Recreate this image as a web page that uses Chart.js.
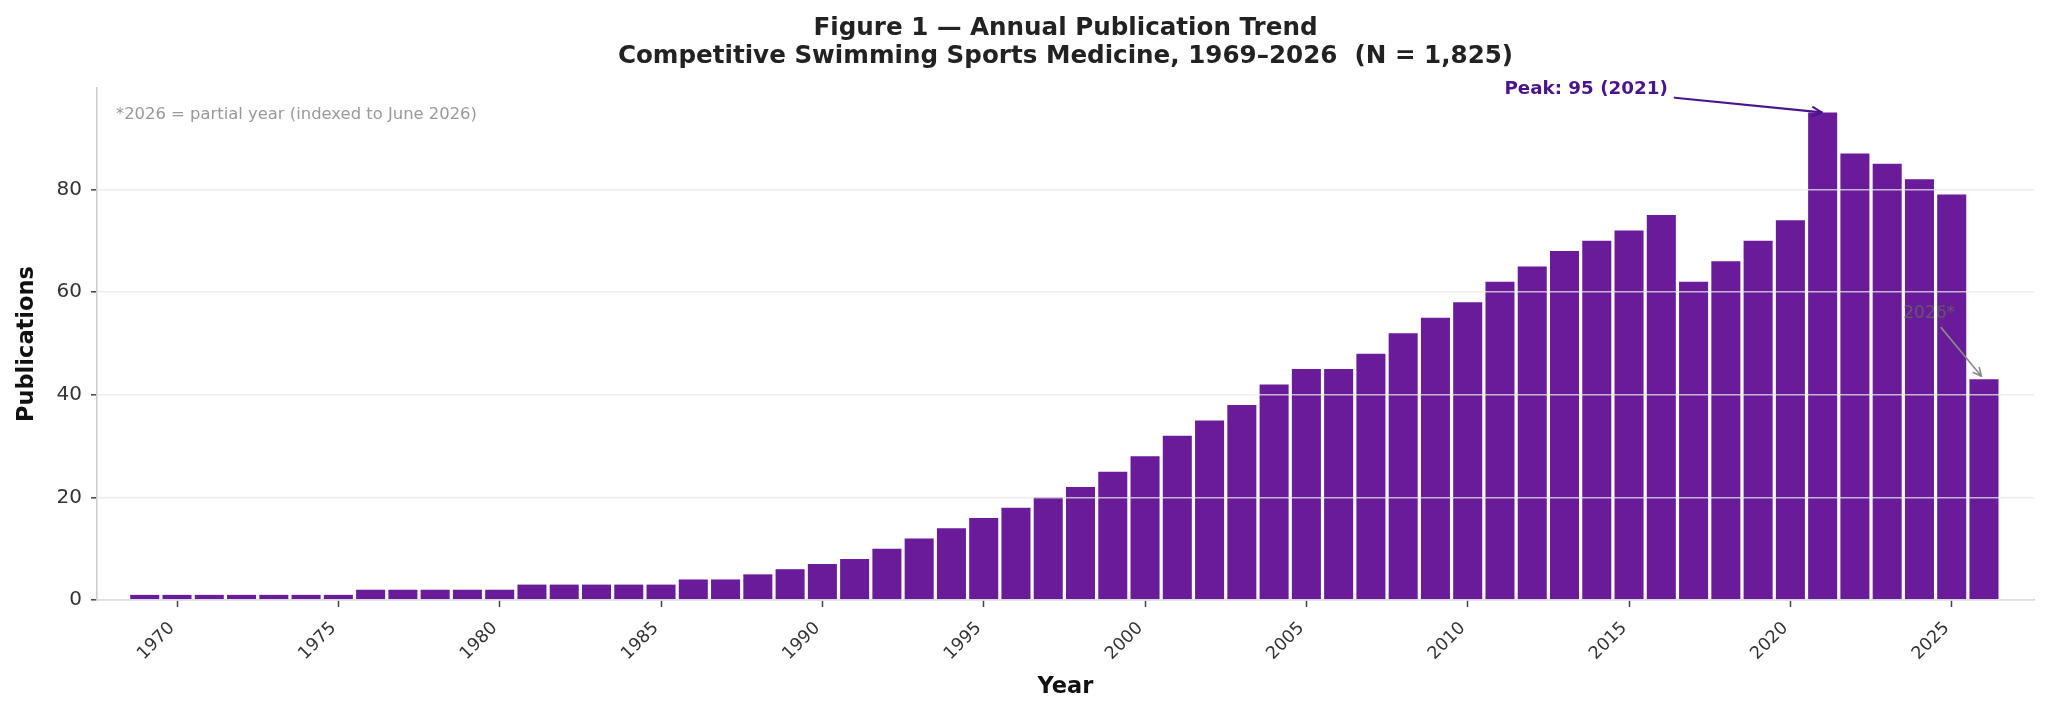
<!DOCTYPE html>
<html>
<head>
<meta charset="utf-8">
<script src="https://cdn.jsdelivr.net/npm/chart.js@4.4.1/dist/chart.umd.min.js"></script>
<style>
  html, body { margin: 0; padding: 0; background: #ffffff; }
  #wrap { width: 2048px; height: 714px; position: relative; }
</style>
</head>
<body>
<div id="wrap"><canvas id="c" width="2048" height="714"></canvas></div>
<script>
// ---- data ----
const years = [1969,1970,1971,1972,1973,1974,1975,1976,1977,1978,1979,1980,1981,1982,1983,1984,1985,1986,1987,1988,1989,1990,1991,1992,1993,1994,1995,1996,1997,1998,1999,2000,2001,2002,2003,2004,2005,2006,2007,2008,2009,2010,2011,2012,2013,2014,2015,2016,2017,2018,2019,2020,2021,2022,2023,2024,2025,2026];
const publications = [1,1,1,1,1,1,1,2,2,2,2,2,3,3,3,3,3,4,4,5,6,7,8,10,12,14,16,18,20,22,25,28,32,35,38,42,45,45,48,52,55,58,62,65,68,70,72,75,62,66,70,74,95,87,85,82,79,43];
const xTickYears = [1970,1975,1980,1985,1990,1995,2000,2005,2010,2015,2020,2025];
const yTickValues = [0,20,40,60,80];
const titleLines = ["Figure 1 \u2014 Annual Publication Trend", "Competitive Swimming Sports Medicine, 1969\u20132026  (N = 1,825)"];
const footnote = "*2026 = partial year (indexed to June 2026)";
const peakLabel = "Peak: 95 (2021)";
const peakYear = 2021, peakValue = 95;
const partialLabel = "2026*";
const partialYear = 2026, partialValue = 43;

const FONT = "'DejaVu Sans', 'Liberation Sans', sans-serif";
const BAR = '#6A1B9A';

function arrowAnnot(ctx, chart, o) {
  const xs = chart.scales.x, ys = chart.scales.y;
  const px = xs.getPixelForValue(o.tx), py = ys.getPixelForValue(o.ty);
  ctx.save();
  ctx.font = o.font;
  const w = ctx.measureText(o.text).width;
  const h = o.size;
  let cx = px;
  if (o.align === 'right') cx = px - w / 2;
  else if (o.align === 'left') cx = px + w / 2;
  ctx.fillStyle = o.color;
  ctx.textAlign = 'center';
  ctx.textBaseline = 'middle';
  ctx.fillText(o.text, cx, py);
  const Tx = xs.getPixelForValue(o.ax), Ty = ys.getPixelForValue(o.ay);
  const dx = Tx - cx, dy = Ty - py;
  const hw = w / 2 + o.pad, hh = h / 2 + o.pad;
  const t = Math.min(dx !== 0 ? hw / Math.abs(dx) : Infinity, dy !== 0 ? hh / Math.abs(dy) : Infinity);
  const Sx = cx + dx * t, Sy = py + dy * t;
  const len = Math.hypot(dx, dy);
  const ux = dx / len, uy = dy / len;
  const Ex = Tx - ux * o.shrink, Ey = Ty - uy * o.shrink;
  ctx.strokeStyle = o.arrowColor;
  ctx.lineWidth = o.lw;
  ctx.lineCap = 'round';
  ctx.lineJoin = 'round';
  ctx.beginPath();
  ctx.moveTo(Sx, Sy);
  ctx.lineTo(Ex, Ey);
  ctx.stroke();
  const ang = Math.atan2(uy, ux);
  const a = Math.PI / 7;
  ctx.beginPath();
  ctx.moveTo(Ex - o.head * Math.cos(ang - a), Ey - o.head * Math.sin(ang - a));
  ctx.lineTo(Ex, Ey);
  ctx.lineTo(Ex - o.head * Math.cos(ang + a), Ey - o.head * Math.sin(ang + a));
  ctx.stroke();
  ctx.restore();
}

const annotPlugin = {
  id: 'annot',
  afterDraw(chart) {
    const ctx = chart.ctx;
    const ca = chart.chartArea;
    ctx.save();
    ctx.font = '16.4px ' + FONT;
    ctx.fillStyle = '#999999';
    ctx.textAlign = 'left';
    ctx.textBaseline = 'middle';
    ctx.fillText(footnote, ca.left + 19, ca.top + 27);
    ctx.restore();
    arrowAnnot(ctx, chart, {
      text: peakLabel, tx: 2016.2, ty: 99.6, ax: peakYear, ay: peakValue,
      font: 'bold 18.3px ' + FONT, size: 18, color: '#4A148C', align: 'right',
      arrowColor: '#4A148C', lw: 2.2, pad: 7, shrink: 1, head: 10
    });
    arrowAnnot(ctx, chart, {
      text: partialLabel, tx: 2024.3, ty: 55.9, ax: partialYear, ay: partialValue,
      font: '17px ' + FONT, size: 17, color: 'rgba(100,100,100,0.8)', align: 'center',
      arrowColor: '#8a8a8a', lw: 1.6, pad: 6, shrink: 4, head: 9
    });
  }
};

const ctx = document.getElementById('c').getContext('2d');
new Chart(ctx, {
  type: 'bar',
  data: {
    datasets: [{
      data: years.map((y, i) => ({ x: y, y: publications[i] })),
      backgroundColor: BAR,
      borderWidth: 0,
      barPercentage: 0.9,
      categoryPercentage: 1.0
    }]
  },
  options: {
    responsive: false,
    devicePixelRatio: 1,
    animation: false,
    layout: { padding: { left: 0, right: 14, top: 0, bottom: 0 } },
    plugins: {
      legend: { display: false },
      tooltip: { enabled: false },
      title: {
        display: true,
        fullSize: false,
        text: titleLines,
        color: '#222222',
        font: { family: FONT, size: 24.6, weight: 'bold', lineHeight: 1.12 },
        padding: { top: 15, bottom: 18 }
      }
    },
    scales: {
      x: {
        type: 'linear',
        min: 1967.52,
        max: 2027.55,
        offset: false,
        afterBuildTicks: (s) => { s.ticks = xTickYears.map(v => ({ value: v })); },
        afterFit: (s) => { s.height = 114; },
        ticks: {
          autoSkip: false,
          minRotation: 45,
          maxRotation: 45,
          padding: 11,
          labelOffset: -5,
          color: '#333333',
          font: { family: FONT, size: 17.5 },
          callback: (v) => String(v)
        },
        grid: {
          offset: false,
          drawOnChartArea: false,
          drawTicks: true,
          tickLength: 7,
          tickColor: '#444444',
          tickWidth: 1.5
        },
        border: { display: true, color: '#cccccc', width: 1.5 },
        title: {
          display: true,
          text: 'Year',
          color: '#111111',
          font: { family: FONT, size: 22.5, weight: 'bold', lineHeight: 1.2 },
          padding: { top: 0, bottom: 13 }
        }
      },
      y: {
        min: 0,
        max: 99.75,
        afterBuildTicks: (s) => { s.ticks = yTickValues.map(v => ({ value: v })); },
        afterFit: (s) => { s.width = 97; },
        ticks: {
          padding: 9,
          color: '#333333',
          font: { family: FONT, size: 20 },
          callback: (v) => String(v)
        },
        grid: {
          z: 1,
          color: 'rgba(232,232,232,0.75)',
          lineWidth: 1.6,
          drawTicks: true,
          tickLength: 6,
          tickColor: '#444444',
          tickWidth: 1.5
        },
        border: { display: true, color: '#cccccc', width: 1.5, z: 2 },
        title: {
          display: true,
          text: 'Publications',
          color: '#111111',
          font: { family: FONT, size: 22.5, weight: 'bold', lineHeight: 1.2 },
          padding: { top: 14, bottom: 0 }
        }
      }
    }
  },
  plugins: [annotPlugin]
});
</script>
</body>
</html>
